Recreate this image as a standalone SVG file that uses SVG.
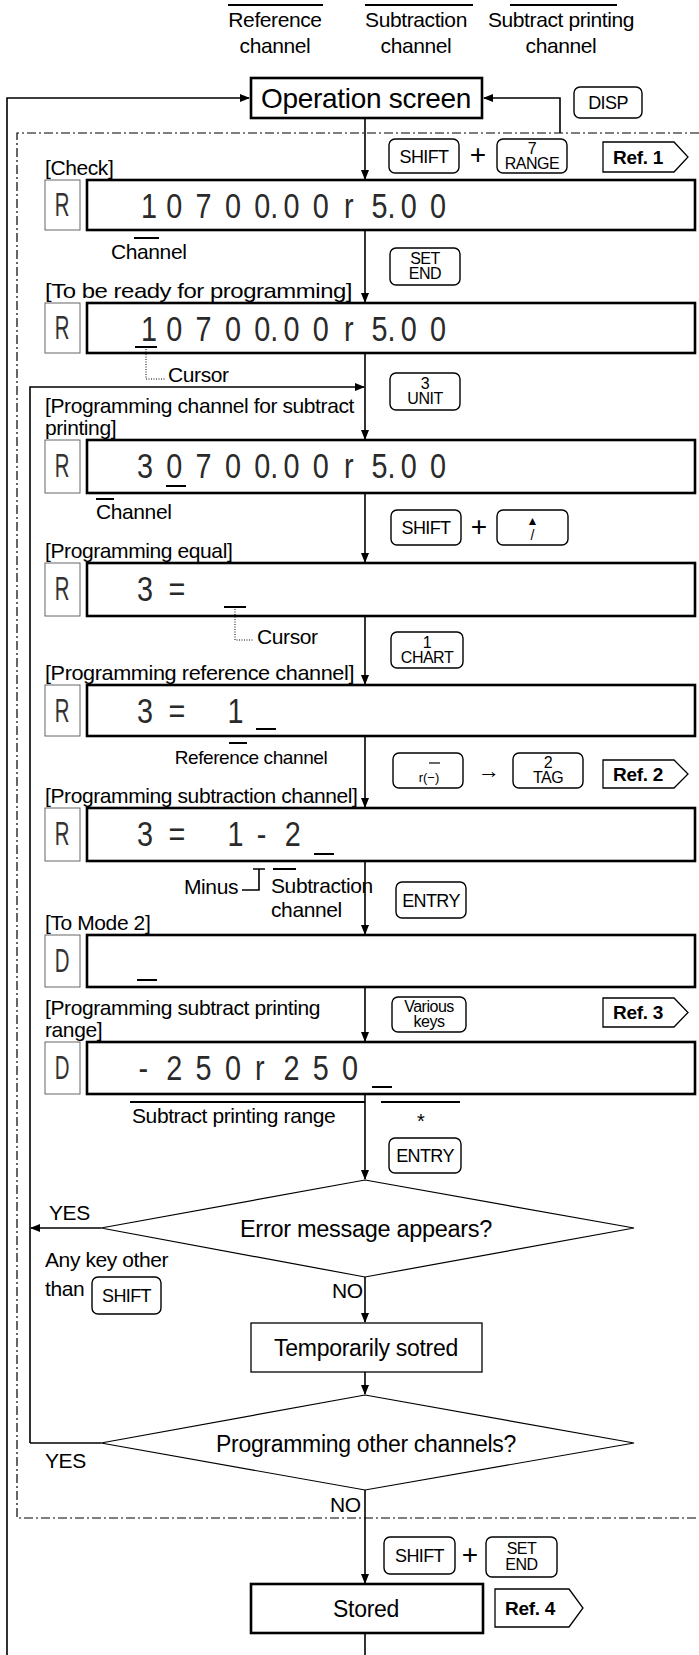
<svg xmlns="http://www.w3.org/2000/svg" width="699" height="1655" viewBox="0 0 699 1655">
<defs>
<style>
text{font-family:"Liberation Sans",Arial,sans-serif;fill:#000}
.lbl{font-size:21px;letter-spacing:-0.4px}
.ctr{text-anchor:middle}
.k{fill:#fff;stroke:#000;stroke-width:1.4}
.kt{font-size:16px;text-anchor:middle;letter-spacing:-0.5px}
.kb{font-size:18px;text-anchor:middle;letter-spacing:-0.6px}
.disp{fill:#fff;stroke:#000;stroke-width:2.6}
.mode{fill:#fff;stroke:#666;stroke-width:1}
.seg{font-size:36px;fill:#2a2a2a}
.md{font-size:34px;fill:#333;text-anchor:middle}
.ln{stroke:#000;stroke-width:1.6;fill:none}
.bar{stroke:#000;stroke-width:2}
.dot{stroke:#000;stroke-width:1;stroke-dasharray:1 1.5;fill:none}
.dd{stroke:#000;stroke-width:1.2;stroke-dasharray:9 3 2 3;fill:none}
.tag{fill:#fff;stroke:#000;stroke-width:1.3}
.tt{font-size:19px;font-weight:bold;text-anchor:middle;letter-spacing:-0.3px}
.dia{fill:#fff;stroke:#000;stroke-width:1.2}
</style>
<marker id="ah" markerWidth="10" markerHeight="10" refX="9" refY="5" orient="auto" markerUnits="userSpaceOnUse">
<path d="M0,1 L10,5 L0,9 z" fill="#000"/>
</marker>
</defs>
<rect width="699" height="1655" fill="#fff"/>

<g id="header">
<line class="bar" x1="228" y1="5" x2="323" y2="5"/>
<line class="bar" x1="365" y1="5" x2="473" y2="5"/>
<line class="bar" x1="510" y1="5" x2="617" y2="5"/>
<text class="lbl ctr" x="275" y="27">Reference</text>
<text class="lbl ctr" x="275" y="53">channel</text>
<text class="lbl ctr" x="416" y="27">Subtraction</text>
<text class="lbl ctr" x="416" y="53">channel</text>
<text class="lbl ctr" x="561" y="27">Subtract printing</text>
<text class="lbl ctr" x="561" y="53">channel</text>
</g>

<g id="frame">
<path class="dd" d="M699,133 H17 V1518 H699"/>
</g>

<g id="connectors">
<path class="ln" d="M7,1655 V98 H249" marker-end="url(#ah)"/>
<path class="ln" d="M560,133 V98 H484" marker-end="url(#ah)"/>
<path class="ln" d="M365,118 V179" marker-end="url(#ah)"/>
<path class="ln" d="M365,230 V302" marker-end="url(#ah)"/>
<path class="ln" d="M365,353 V439" marker-end="url(#ah)"/>
<path class="ln" d="M30,1443 V387 H364" marker-end="url(#ah)"/>
<path class="ln" d="M365,493 V562" marker-end="url(#ah)"/>
<path class="ln" d="M365,616 V684" marker-end="url(#ah)"/>
<path class="ln" d="M365,736 V807" marker-end="url(#ah)"/>
<path class="ln" d="M365,861 V934" marker-end="url(#ah)"/>
<path class="ln" d="M365,987 V1041" marker-end="url(#ah)"/>
<path class="ln" d="M365,1094 V1179" marker-end="url(#ah)"/>
<path class="ln" d="M101,1228 H31" marker-end="url(#ah)"/>
<path class="ln" d="M365,1277 V1322" marker-end="url(#ah)"/>
<path class="ln" d="M365,1372 V1394" marker-end="url(#ah)"/>
<path class="ln" d="M101,1443 H30"/>
<path class="ln" d="M365,1490 V1583" marker-end="url(#ah)"/>
<path class="ln" d="M365,1633 V1655"/>
</g>

<g id="operation-screen">
<rect x="251" y="78" width="231" height="40" fill="#fff" stroke="#000" stroke-width="2.6"/>
<text class="ctr" x="366" y="108" font-size="28" letter-spacing="-0.3">Operation screen</text>
</g>

<g id="key-disp">
<rect class="k" x="574" y="87" width="68" height="31" rx="6"/>
<text class="kb" x="608" y="109">DISP</text>
</g>

<g id="keys-1">
<rect class="k" x="389" y="139" width="70" height="34" rx="6"/>
<text class="kb" x="424" y="162.5">SHIFT</text>
<text class="ctr" x="478" y="164" font-size="28">+</text>
<rect class="k" x="497" y="139" width="70" height="34" rx="6"/>
<text class="kt" x="532" y="154">7</text>
<text class="kt" x="532" y="169">RANGE</text>
</g>
<g id="ref-1">
<path class="tag" d="M603,142 H674 L688,157 L674,172 H603 Z"/>
<text class="tt" x="638" y="164">Ref. 1</text>
</g>

<g id="step-check">
<text class="lbl" x="45" y="175">[Check]</text>
<rect class="mode" x="45" y="180" width="35" height="50"/>
<text class="md" x="62" y="216" transform="translate(24.8,0) scale(0.6,1)">R</text>
<rect class="disp" x="87" y="180" width="608" height="50"/>
<text class="seg" transform="scale(0.8,1)" x="176.3 207.9 244.5 281.1 317.8 337.8 354.4 391 430.1 464.3 484.3 500.9 537.5" y="218">10700.00r5.00</text>
<line class="bar" x1="134" y1="238" x2="159" y2="238"/>
<text class="lbl" x="111" y="259">Channel</text>
</g>

<g id="key-setend-1">
<rect class="k" x="390" y="248" width="70" height="37" rx="6"/>
<text class="kt" x="425" y="264">SET</text>
<text class="kt" x="425" y="279">END</text>
</g>

<g id="step-ready">
<text class="lbl" x="45" y="298" textLength="307" lengthAdjust="spacingAndGlyphs">[To be ready for programming]</text>
<rect class="mode" x="45" y="303" width="35" height="50"/>
<text class="md" x="62" y="339" transform="translate(24.8,0) scale(0.6,1)">R</text>
<rect class="disp" x="87" y="303" width="608" height="50"/>
<text class="seg" transform="scale(0.8,1)" x="176.3 207.9 244.5 281.1 317.8 337.8 354.4 391 430.1 464.3 484.3 500.9 537.5" y="341">10700.00r5.00</text>
<line class="bar" x1="135" y1="347" x2="157" y2="347"/>
<path class="dot" d="M146,349 V379 H166"/>
<text class="lbl" x="168" y="382">Cursor</text>
</g>

<g id="key-unit">
<rect class="k" x="390" y="373" width="70" height="37" rx="6"/>
<text class="kt" x="425" y="389">3</text>
<text class="kt" x="425" y="404">UNIT</text>
</g>

<g id="step-channel">
<text class="lbl" x="45" y="413">[Programming channel for subtract</text>
<text class="lbl" x="45" y="435">printing]</text>
<rect class="mode" x="45" y="440" width="35" height="53"/>
<text class="md" x="62" y="477" transform="translate(24.8,0) scale(0.6,1)">R</text>
<rect class="disp" x="87" y="440" width="608" height="53"/>
<text class="seg" transform="scale(0.8,1)" x="171.3 207.9 244.5 281.1 317.8 337.8 354.4 391 430.1 464.3 484.3 500.9 537.5" y="478">30700.00r5.00</text>
<line class="bar" x1="166" y1="486" x2="186" y2="486"/>
<line class="bar" x1="96" y1="499" x2="114" y2="499"/>
<text class="lbl" x="96" y="519">Channel</text>
</g>

<g id="keys-equal">
<rect class="k" x="391" y="510" width="70" height="35" rx="6"/>
<text class="kb" x="426" y="534">SHIFT</text>
<text class="ctr" x="479" y="536" font-size="28">+</text>
<rect class="k" x="497" y="510" width="71" height="35" rx="6"/>
<text class="ctr" x="532.5" y="525" font-size="12">▲</text>
<text class="ctr" x="532.5" y="540" font-size="14">/</text>
</g>

<g id="step-equal">
<text class="lbl" x="45" y="558">[Programming equal]</text>
<rect class="mode" x="45" y="563" width="35" height="53"/>
<text class="md" x="62" y="600" transform="translate(24.8,0) scale(0.6,1)">R</text>
<rect class="disp" x="87" y="563" width="608" height="53"/>
<text class="seg" transform="scale(0.8,1)" x="171.3 210.5" y="601">3=</text>
<line class="bar" x1="224" y1="607" x2="246" y2="607"/>
<path class="dot" d="M235,609 V640 H254"/>
<text class="lbl" x="257" y="644">Cursor</text>
</g>

<g id="key-chart">
<rect class="k" x="391" y="632" width="72" height="36" rx="6"/>
<text class="kt" x="427" y="648">1</text>
<text class="kt" x="427" y="663">CHART</text>
</g>

<g id="step-reference">
<text class="lbl" x="45" y="680" textLength="309" lengthAdjust="spacingAndGlyphs">[Programming reference channel]</text>
<rect class="mode" x="45" y="685" width="35" height="51"/>
<text class="md" x="62" y="722" transform="translate(24.8,0) scale(0.6,1)">R</text>
<rect class="disp" x="87" y="685" width="608" height="51"/>
<text class="seg" transform="scale(0.8,1)" x="171.3 210.5 284.5" y="723">3=1</text>
<line class="bar" x1="256" y1="729" x2="276" y2="729"/>
<line class="bar" x1="229" y1="743" x2="247" y2="743"/>
<text class="ctr" x="251" y="764" font-size="19" letter-spacing="-0.4">Reference channel</text>
</g>

<g id="keys-minus-tag">
<rect class="k" x="393" y="753" width="70" height="35" rx="6"/>
<line x1="429" y1="763" x2="440" y2="763" stroke="#000" stroke-width="1.2"/>
<text class="ctr" x="429" y="782" font-size="13">r(−)</text>
<text class="ctr" x="489" y="778" font-size="22">→</text>
<rect class="k" x="513" y="753" width="70" height="35" rx="6"/>
<text class="kt" x="548" y="768">2</text>
<text class="kt" x="548" y="783">TAG</text>
</g>
<g id="ref-2">
<path class="tag" d="M603,760 H674 L688,774 L674,788 H603 Z"/>
<text class="tt" x="638" y="781">Ref. 2</text>
</g>

<g id="step-subtraction">
<text class="lbl" x="45" y="803">[Programming subtraction channel]</text>
<rect class="mode" x="45" y="808" width="35" height="53"/>
<text class="md" x="62" y="845" transform="translate(24.8,0) scale(0.6,1)">R</text>
<rect class="disp" x="87" y="808" width="608" height="53"/>
<text class="seg" transform="scale(0.8,1)" x="171.3 210.5 284.5 321 356" y="846">3=1-2</text>
<line class="bar" x1="314" y1="854" x2="334" y2="854"/>
<path class="ln" d="M253,869 H265 M259,869 V890 H242" stroke-width="1.4"/>
<line class="bar" x1="273" y1="869" x2="296" y2="869"/>
<text class="lbl" x="184" y="894">Minus</text>
<text class="lbl" x="271" y="893">Subtraction</text>
<text class="lbl" x="271" y="917">channel</text>
</g>

<g id="key-entry-1">
<rect class="k" x="396" y="882" width="70" height="36" rx="6"/>
<text class="kb" x="431" y="906.5">ENTRY</text>
</g>

<g id="step-mode2">
<text class="lbl" x="45" y="930">[To Mode 2]</text>
<rect class="mode" x="45" y="935" width="35" height="52"/>
<text class="md" x="62" y="972" transform="translate(24.8,0) scale(0.6,1)">D</text>
<rect class="disp" x="87" y="935" width="608" height="52"/>
<line class="bar" x1="137" y1="980" x2="157" y2="980"/>
</g>

<g id="key-various">
<rect class="k" x="392" y="997" width="74" height="35" rx="6"/>
<text class="kt" x="429" y="1012">Various</text>
<text class="kt" x="429" y="1027">keys</text>
</g>
<g id="ref-3">
<path class="tag" d="M603,998 H674 L688,1012.5 L674,1027 H603 Z"/>
<text class="tt" x="638" y="1019">Ref. 3</text>
</g>

<g id="step-range">
<text class="lbl" x="45" y="1015">[Programming subtract printing</text>
<text class="lbl" x="45" y="1037">range]</text>
<rect class="mode" x="45" y="1042" width="35" height="52"/>
<text class="md" x="62" y="1079" transform="translate(24.8,0) scale(0.6,1)">D</text>
<rect class="disp" x="87" y="1042" width="608" height="52"/>
<text class="seg" transform="scale(0.8,1)" x="173 207.9 244.5 281.1 318.9 354.4 391 427.5" y="1080">-250r250</text>
<line class="bar" x1="372" y1="1087" x2="392" y2="1087"/>
<line class="bar" x1="130" y1="1102" x2="365" y2="1102"/>
<line class="bar" x1="381" y1="1102" x2="460" y2="1102"/>
<text class="lbl" x="132" y="1123">Subtract printing range</text>
<text class="ctr" x="421" y="1128" font-size="20">*</text>
</g>

<g id="key-entry-2">
<rect class="k" x="389" y="1138" width="72" height="35" rx="6"/>
<text class="kb" x="425" y="1162">ENTRY</text>
</g>

<g id="decision-error">
<path class="dia" d="M365,1180 L634,1228 L365,1277 L101,1228 Z"/>
<text class="ctr" x="366" y="1237" font-size="23.5" letter-spacing="-0.3">Error message appears?</text>
<text class="lbl" x="49" y="1220">YES</text>
<text class="lbl" x="45" y="1267">Any key other</text>
<text class="lbl" x="45" y="1296">than</text>
<rect class="k" x="92" y="1277" width="69" height="37" rx="6"/>
<text class="kb" x="126.5" y="1302">SHIFT</text>
<text class="lbl" x="332" y="1298">NO</text>
</g>

<g id="temp-stored">
<rect x="251" y="1323" width="231" height="49" fill="#fff" stroke="#000" stroke-width="1.3"/>
<text class="ctr" x="366" y="1356" font-size="23" letter-spacing="-0.3">Temporarily sotred</text>
</g>

<g id="decision-other">
<path class="dia" d="M365,1395 L634,1443 L365,1490 L101,1443 Z"/>
<text class="ctr" x="366" y="1452" font-size="23" letter-spacing="-0.3">Programming other channels?</text>
<text class="lbl" x="45" y="1468">YES</text>
<text class="lbl" x="330" y="1512">NO</text>
</g>

<g id="keys-store">
<rect class="k" x="384" y="1537" width="71" height="37" rx="6"/>
<text class="kb" x="419.5" y="1561.5">SHIFT</text>
<text class="ctr" x="470" y="1564" font-size="28">+</text>
<rect class="k" x="486" y="1537" width="71" height="40" rx="6"/>
<text class="kt" x="521.5" y="1554">SET</text>
<text class="kt" x="521.5" y="1570">END</text>
</g>

<g id="stored">
<rect x="251" y="1584" width="232" height="49" fill="#fff" stroke="#000" stroke-width="2.6"/>
<text class="ctr" x="366" y="1617" font-size="23" letter-spacing="-0.3">Stored</text>
</g>
<g id="ref-4">
<path class="tag" d="M495,1589 H569 L583,1608 L569,1627 H495 Z"/>
<text class="tt" x="530" y="1615">Ref. 4</text>
</g>
</svg>
